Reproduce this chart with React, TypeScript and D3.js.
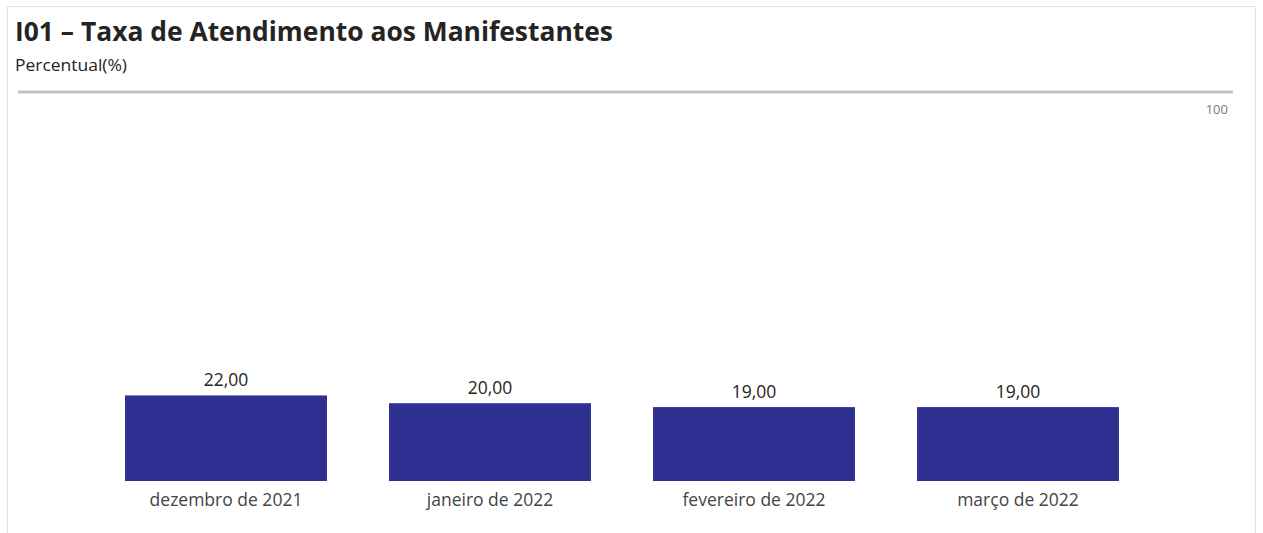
import { useEffect, useRef } from "react";
import * as d3 from "d3";

const categories = ["dezembro de 2021", "janeiro de 2022", "fevereiro de 2022", "março de 2022"];
const values = [22, 20, 19, 19];
const refValue = 100;

const W = 1263;
const H = 533;
const FONT = "'Open Sans', 'Noto Sans', sans-serif";

export default function App() {
  const svgRef = useRef<SVGSVGElement>(null);

  useEffect(() => {
    if (!svgRef.current) return;
    const svg = d3.select(svgRef.current);
    svg.selectAll("*").remove();

    // panel frame
    svg
      .append("path")
      .attr("d", `M7.5,${H} V6.5 H1255.5 V${H}`)
      .attr("fill", "none")
      .attr("stroke", "#e3e3e3")
      .attr("stroke-width", 1);

    // title + subtitle
    svg
      .append("text")
      .attr("x", 15)
      .attr("y", 41)
      .style("font-family", FONT)
      .style("font-size", "26px")
      .style("font-weight", "700")
      .style("fill", "#252423")
      .attr("textLength", 598)
      .attr("lengthAdjust", "spacingAndGlyphs")
      .text("I01 – Taxa de Atendimento aos Manifestantes");

    svg
      .append("text")
      .attr("x", 15)
      .attr("y", 71)
      .style("font-family", FONT)
      .style("font-size", "16px")
      .style("fill", "#252423")
      .attr("textLength", 112)
      .attr("lengthAdjust", "spacingAndGlyphs")
      .text("Percentual(%)");

    const baseY = 481;
    const y = d3.scaleLinear().domain([0, refValue]).range([baseY, 92]);
    const x = d3
      .scaleBand<string>()
      .domain(categories)
      .range([94, 1150])
      .paddingInner(0.235)
      .paddingOuter(0.1175);

    // reference line at 100
    svg
      .append("line")
      .attr("x1", 18)
      .attr("x2", 1233)
      .attr("y1", y(refValue))
      .attr("y2", y(refValue))
      .attr("stroke", "#c2c2c2")
      .attr("stroke-width", 3);

    svg
      .append("text")
      .attr("x", 1228)
      .attr("y", y(refValue) + 22)
      .attr("text-anchor", "end")
      .style("font-family", FONT)
      .style("font-size", "13px")
      .style("fill", "#7a7a7a")
      .text(String(refValue));

    const fmt = (v: number) => v.toFixed(2).replace(".", ",");

    const g = svg.append("g");
    g.selectAll("rect")
      .data(values)
      .join("rect")
      .attr("x", (_, i) => x(categories[i])!)
      .attr("y", (d) => y(d))
      .attr("width", x.bandwidth())
      .attr("height", (d) => baseY - y(d))
      .attr("fill", "#2e3192");

    g.selectAll("text.val")
      .data(values)
      .join("text")
      .attr("class", "val")
      .attr("x", (_, i) => x(categories[i])! + x.bandwidth() / 2)
      .attr("y", (d) => y(d) - 9)
      .attr("text-anchor", "middle")
      .style("font-family", FONT)
      .style("font-size", "17.5px")
      .style("fill", "#252423")
      .text((d) => fmt(d));

    g.selectAll("text.cat")
      .data(categories)
      .join("text")
      .attr("class", "cat")
      .attr("x", (d) => x(d)! + x.bandwidth() / 2)
      .attr("y", baseY + 25)
      .attr("text-anchor", "middle")
      .style("font-family", FONT)
      .style("font-size", "17.5px")
      .style("fill", "#444444")
      .text((d) => d);
  }, []);

  return (
    <svg
      ref={svgRef}
      width={W}
      height={H}
      style={{ position: "absolute", left: 0, top: 0, background: "#ffffff" }}
    />
  );
}
